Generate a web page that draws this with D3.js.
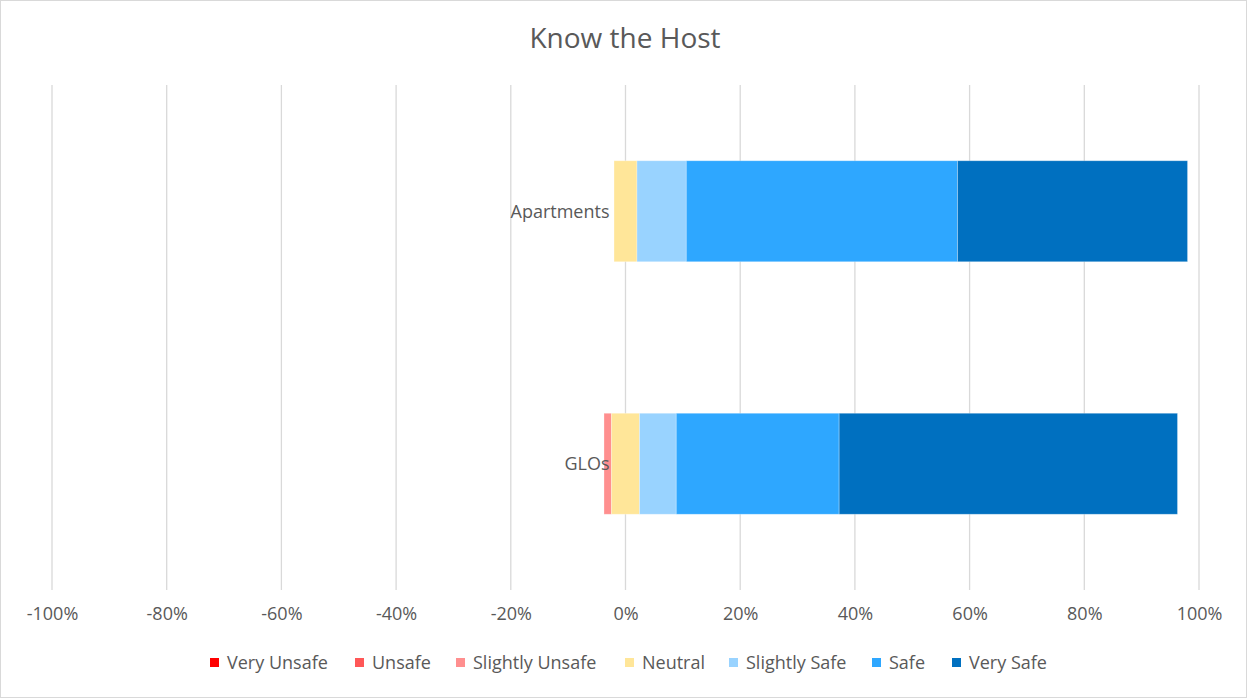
<!DOCTYPE html>
<html><head><meta charset="utf-8">
<script src="https://cdn.jsdelivr.net/npm/d3@7"></script>
<style>body{margin:0;background:#fff}svg{display:block}text{font-family:"Open Sans",sans-serif;fill:#595959}</style>
</head><body><svg id="c" width="1247" height="698"></svg>
<script>
const categories = ["Apartments", "GLOs"];
const seriesNames = ["Very Unsafe", "Unsafe", "Slightly Unsafe", "Neutral", "Slightly Safe", "Safe", "Very Safe"];
const veryUnsafe = [0, 0];
const unsafe = [0, 0];
const slightlyUnsafe = [0, 1.3];
const neutral = [4.0, 4.9];
const slightlySafe = [8.6, 6.4];
const safe = [47.3, 28.4];
const verySafe = [40.1, 59.0];
const tickValues = [-100, -80, -60, -40, -20, 0, 20, 40, 60, 80, 100];
const colors = ["#FF0000", "#FF5757", "#FF8F8F", "#FFE699", "#99D3FF", "#2EA7FF", "#0070C0"];

const series = [veryUnsafe, unsafe, slightlyUnsafe, neutral, slightlySafe, safe, verySafe];
const W = 1247, H = 698;
const FS = "18px";
const svg = d3.select("#c");
svg.append("rect").attr("x",0.5).attr("y",0.5).attr("width",W-1).attr("height",H-1).attr("fill","#fff").attr("stroke","#D9D9D9");

const x = d3.scaleLinear().domain([-100,100]).range([52,1199]);
const y = d3.scaleBand().domain(categories).range([85,590]).paddingInner(0.6).paddingOuter(0.3);

svg.append("text").attr("x",625).attr("y",48).attr("text-anchor","middle").style("font-size","28px").text("Know the Host");

// grid
svg.append("g").selectAll("line").data(tickValues).join("line")
  .attr("x1",d=>x(d)).attr("x2",d=>x(d)).attr("y1",85).attr("y2",590)
  .attr("stroke","#D9D9D9").attr("stroke-width",1.3);

// tick labels
const xAxis = d3.axisBottom(x).tickValues(tickValues).tickSize(0).tickFormat(d=>d+"%");
const gx = svg.append("g").attr("transform","translate(0,604)").call(xAxis);
gx.select(".domain").remove();
gx.selectAll("text").style("font-size",FS).attr("fill","#595959").style("font-family","'Open Sans',sans-serif");

// stacks
categories.forEach((cat,i)=>{
  let start = -(veryUnsafe[i]+unsafe[i]+slightlyUnsafe[i]+neutral[i]/2);
  series.forEach((s,k)=>{
    const v = s[i];
    if(v>0){
      svg.append("rect").attr("x",x(start)).attr("width",x(start+v)-x(start))
        .attr("y",y(cat)).attr("height",y.bandwidth()).attr("fill",colors[k])
        .attr("stroke","rgba(255,255,255,0.35)").attr("stroke-width",0.8);
    }
    start += v;
  });
});

// category labels
svg.append("g").selectAll("text").data(categories).join("text")
  .attr("x",x(0)-16).attr("y",d=>y(d)+y.bandwidth()/2).attr("dy","0.35em")
  .attr("text-anchor","end").style("font-size",FS).text(d=>d);

// legend
const legendTextX = [227, 372, 473, 642, 746, 889, 969];
const lg = svg.append("g").selectAll("g").data(seriesNames).join("g")
  .attr("transform",(d,i)=>`translate(${legendTextX[i]},663)`);
lg.append("rect").attr("x",-17).attr("y",-5).attr("width",9).attr("height",9).attr("fill",(d,i)=>colors[i]);
lg.append("text").attr("x",0).attr("y",0).attr("dy","0.35em").style("font-size",FS).text(d=>d);
</script></body></html>
